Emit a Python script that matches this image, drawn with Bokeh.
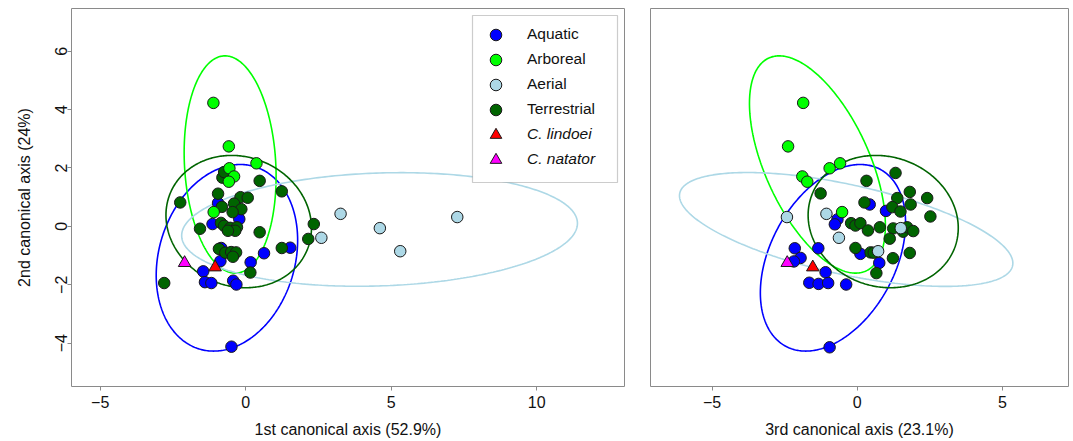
import numpy as np
from bokeh.plotting import figure
from bokeh.layouts import row
from bokeh.models import FixedTicker, Legend, LegendItem, BoxAnnotation, Range1d
from bokeh.embed import file_html
from bokeh.resources import INLINE

# ---------------- data ----------------
groups = ["Aquatic", "Arboreal", "Aerial", "Terrestrial"]
group_colors = ["#0000FF", "#00FF00", "#ADD8E6", "#006400"]
species = ["C. lindoei", "C. natator"]
species_colors = ["#FF0000", "#FF00FF"]

x_label_1 = "1st canonical axis (52.9%)"
x_label_3 = "3rd canonical axis (23.1%)"
y_label_2 = "2nd canonical axis (24%)"
x_ticks_1 = [-5, 0, 5, 10]
x_ticks_3 = [-5, 0, 5]
y_ticks_2 = [-4, -2, 0, 2, 4, 6]

# Panel A: CA1 vs CA2
aquatic_a_x = [-0.95, -1.14, -0.22, -0.84, 0.63, 1.53, 0.17, -0.87, -1.46, -1.40, -1.18, -0.43, -0.32, -0.49]
aquatic_a_y = [0.80, 0.08, 0.25, -0.74, -0.92, -0.73, -1.23, -1.19, -1.54, -1.91, -1.94, -1.86, -1.99, -4.12]
terrestrial_a_x = [-2.25, -2.80, -1.57, -0.95, -0.80, -0.74, 0.48, 1.24, -0.18, 0.07, -0.40, -0.82, -0.15, -0.45,
                   -0.85, -0.74, -0.53, -0.30, -0.36, -0.61, 0.48, 2.34, 2.15, 1.24, -0.92, -0.70, -0.50, -0.33,
                   -0.44, 0.16]
terrestrial_a_y = [0.82, -1.94, -0.08, 1.12, 1.67, 1.86, 1.56, 1.20, 1.00, 0.98, 0.78, 0.67, 0.59, 0.49,
                   0.12, 0.02, -0.05, -0.03, -0.15, -0.15, -0.20, 0.08, -0.43, -0.74, -0.77, -0.90, -0.88, -0.89,
                   -1.04, -1.58]

# Panel B: CA3 vs CA2
aquatic_b_x = [0.43, 0.99, -0.68, -0.77, -2.15, -1.34, -1.95, -2.18, 0.11, 0.76, -1.09, -1.65, -1.33, -1.00, -0.38, -0.95]
aquatic_b_y = [0.75, 0.53, 0.24, 0.07, -0.75, -0.75, -1.08, -1.20, -0.94, -1.25, -1.57, -1.93, -1.97, -1.94, -1.99, -4.14]
terrestrial_b_x = [1.32, 0.32, -1.26, 1.81, 2.41, 0.25, 1.38, 1.84, 1.21, 1.49, 2.52, -0.21, -0.06, 0.11,
                   0.37, 0.78, 1.24, 1.58, 1.72, 1.93, 1.12, -0.06, 0.46, 0.57, 1.81, 1.23, 0.66]
terrestrial_b_y = [1.83, 1.56, 1.13, 1.18, 0.97, 0.82, 0.97, 0.75, 0.66, 0.51, 0.34, 0.11, 0.03, 0.11,
                   -0.14, -0.03, -0.07, -0.18, -0.03, -0.16, -0.42, -0.74, -0.89, -0.90, -0.91, -1.09, -1.60]

# Specimens visible in both panels
arboreal_ca1 = [-1.11, -0.58, 0.37, -0.56, -0.40, -0.58, -1.10]
arboreal_ca2 = [4.23, 2.74, 2.16, 1.99, 1.71, 1.53, 0.49]
arboreal_ca3 = [-1.86, -2.38, -0.59, -0.95, -1.89, -1.72, -0.52]
aerial_ca1 = [2.60, 3.26, 4.61, 5.31, 7.27]
aerial_ca2 = [-0.39, 0.43, -0.06, -0.85, 0.32]
aerial_ca3 = [-0.63, -1.06, 1.50, 0.72, -2.42]
lindoei_ca1, lindoei_ca2, lindoei_ca3 = [-1.05], [-1.40], [-1.53]
natator_ca1, natator_ca2, natator_ca3 = [-2.10], [-1.25], [-2.41]

# Group ellipses: centre, half-width, half-height, y-offset of the x-extreme point
ell_a_cx = [-0.645, -0.535, 4.60, -0.24]
ell_a_cy = [-1.075, 2.12, -0.105, 0.165]
ell_a_w = [2.43, 1.58, 6.80, 2.50]
ell_a_h = [3.195, 3.72, 1.945, 2.265]
ell_a_r = [0.60, -0.41, 0.21, -0.22]
ell_b_cx = [-0.835, -1.37, -0.38, 0.895]
ell_b_cy = [-1.075, 2.12, -0.105, 0.165]
ell_b_w = [2.50, 2.34, 5.74, 2.585]
ell_b_h = [3.195, 3.72, 1.95, 2.265]
ell_b_r = [1.20, -2.09, -1.155, -0.22]

FONT = "Liberation Sans"
Y_RANGE = (-5.483, 7.462)


def ellipse_xy(cx, cy, w, h, r):
    t = np.linspace(0, 2 * np.pi, 361)
    x = cx + w * np.cos(t)
    y = cy + r * np.cos(t) + np.sqrt(h * h - r * r) * np.sin(t)
    return x, y


def make_fig(xr, xticks, xlabel, fw, bl, br, show_y):
    p = figure(frame_width=fw, frame_height=378,
               x_range=Range1d(*xr), y_range=Range1d(*Y_RANGE),
               output_backend="svg", toolbar_location=None,
               min_border_left=bl, min_border_right=br, min_border_top=8, min_border_bottom=55,
               y_axis_location="left" if show_y else None,
               background_fill_color="white", border_fill_color="white")
    p.xgrid.visible = False
    p.ygrid.visible = False
    p.outline_line_color = "#8a8a8a"
    p.outline_line_width = 1
    axes = [p.xaxis[0]] + ([p.yaxis[0]] if show_y else [])
    for ax in axes:
        ax.axis_line_color = None
        ax.major_tick_line_color = "#8a8a8a"
        ax.major_tick_out = 4
        ax.major_tick_in = 0
        ax.minor_tick_line_color = None
        ax.major_label_text_font = FONT
        ax.major_label_text_font_size = "16px"
        ax.major_label_text_color = "#111111"
        ax.axis_label_text_font = FONT
        ax.axis_label_text_font_size = "16px"
        ax.axis_label_text_font_style = "normal"
        ax.axis_label_text_color = "#111111"
    p.xaxis.ticker = FixedTicker(ticks=xticks)
    p.xaxis.axis_label = xlabel
    p.xaxis.major_label_standoff = 5
    p.xaxis.axis_label_standoff = 10
    if show_y:
        p.yaxis.ticker = FixedTicker(ticks=y_ticks_2)
        p.yaxis.axis_label = y_label_2
        p.yaxis.major_label_orientation = "vertical"
        p.yaxis.major_label_standoff = 0
        p.yaxis.axis_label_standoff = 20
    return p


def draw(p, ell, aq, te, arb, aer, lin, nat):
    cxs, cys, ws, hs, rs = ell
    for i in range(len(groups)):
        ex, ey = ellipse_xy(cxs[i], cys[i], ws[i], hs[i], rs[i])
        p.line(ex, ey, line_color=group_colors[i], line_width=1.6)
    kw = dict(marker="circle", size=11.5, line_color="#1a1a1a", line_width=1)
    r_aq = p.scatter(aq[0], aq[1], fill_color=group_colors[0], **kw)
    r_te = p.scatter(te[0], te[1], fill_color=group_colors[3], **kw)
    r_ae = p.scatter(aer[0], aer[1], fill_color=group_colors[2], **kw)
    r_ar = p.scatter(arb[0], arb[1], fill_color=group_colors[1], **kw)
    tkw = dict(marker="triangle", size=12.5, line_color="#1a1a1a", line_width=1)
    r_li = p.scatter(lin[0], lin[1], fill_color=species_colors[0], **tkw)
    r_na = p.scatter(nat[0], nat[1], fill_color=species_colors[1], **tkw)
    return [r_aq, r_ar, r_ae, r_te], [r_li, r_na]


p1 = make_fig((-5.986, 13.017), x_ticks_1, x_label_1, 553, 71, 12, True)
grp_r, sp_r = draw(p1, (ell_a_cx, ell_a_cy, ell_a_w, ell_a_h, ell_a_r),
                   (aquatic_a_x, aquatic_a_y), (terrestrial_a_x, terrestrial_a_y),
                   (arboreal_ca1, arboreal_ca2), (aerial_ca1, aerial_ca2),
                   (lindoei_ca1, lindoei_ca2), (natator_ca1, natator_ca2))

p2 = make_fig((-7.118, 7.276), x_ticks_3, x_label_3, 418, 14, 5, False)
draw(p2, (ell_b_cx, ell_b_cy, ell_b_w, ell_b_h, ell_b_r),
     (aquatic_b_x, aquatic_b_y), (terrestrial_b_x, terrestrial_b_y),
     (arboreal_ca3, arboreal_ca2), (aerial_ca3, aerial_ca2),
     (lindoei_ca3, lindoei_ca2), (natator_ca3, natator_ca2))

# legend frame
box = BoxAnnotation(left=401, right=546, top=371, bottom=204,
                    left_units="screen", right_units="screen", top_units="screen", bottom_units="screen",
                    fill_color="white", fill_alpha=1.0, line_color="#555555", line_width=1.2)
p1.add_layout(box)

# one legend per row, rows 25 px apart
common = dict(border_line_color=None, background_fill_alpha=0, padding=0, margin=0, spacing=0,
              glyph_width=29, glyph_height=29, label_height=29, label_standoff=17,
              label_text_font=FONT, label_text_font_size="15.5px", label_text_color="#111111")
labels = groups + species
rends = grp_r + sp_r
styles = ["normal"] * len(groups) + ["italic"] * len(species)
for i, (lab, rend, st) in enumerate(zip(labels, rends, styles)):
    leg = Legend(items=[LegendItem(label=lab, renderers=[rend])],
                 location=(410, 337.5 - 25 * i), label_text_font_style=st, **common)
    p1.add_layout(leg)

layout = row(p1, p2)
open("out.html", "w").write(file_html(layout, INLINE))
